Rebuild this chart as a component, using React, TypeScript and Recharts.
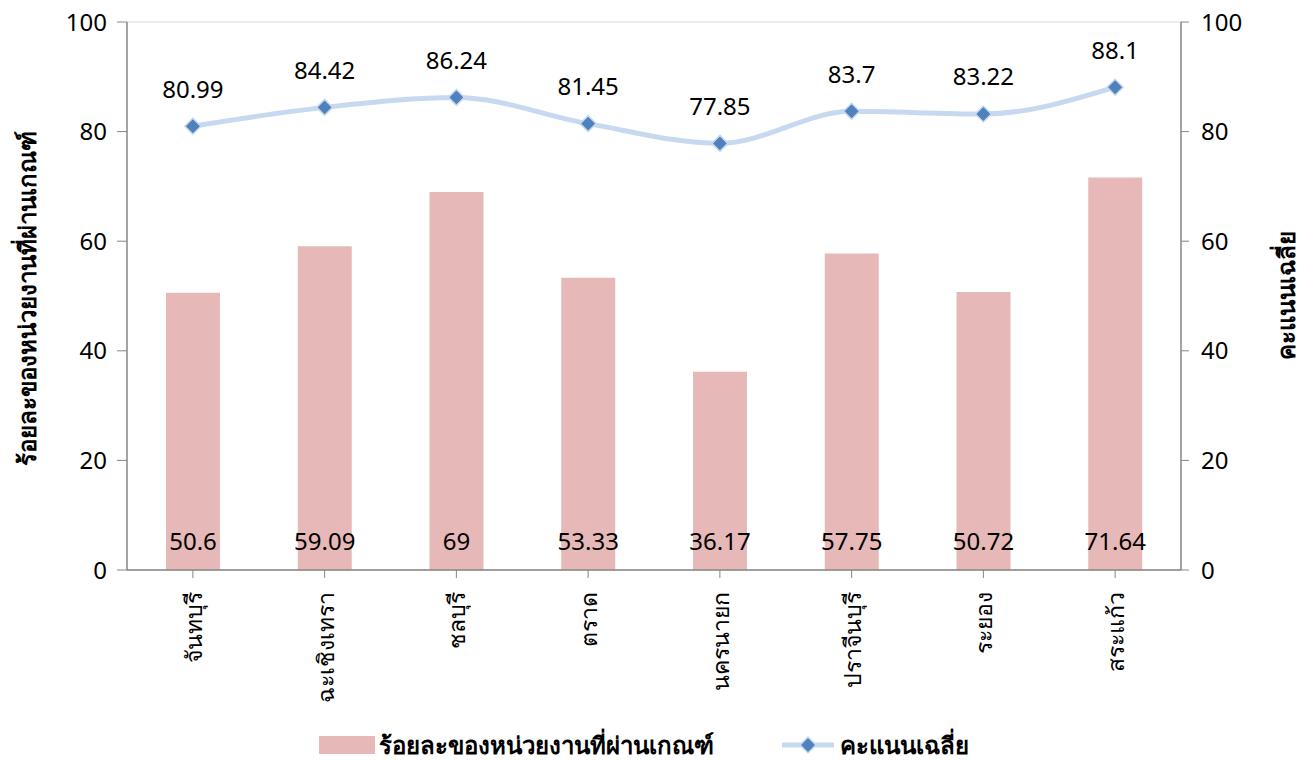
import React from "react";
import {
  ComposedChart,
  Bar,
  Line,
  XAxis,
  YAxis,
  CartesianGrid,
  Legend,
  LabelList,
} from "recharts";

const categories = [
  "จันทบุรี",
  "ฉะเชิงเทรา",
  "ชลบุรี",
  "ตราด",
  "นครนายก",
  "ปราจีนบุรี",
  "ระยอง",
  "สระแก้ว",
];
const passPercent = [50.6, 59.09, 69, 53.33, 36.17, 57.75, 50.72, 71.64];
const avgScore = [80.99, 84.42, 86.24, 81.45, 77.85, 83.7, 83.22, 88.1];
const yTicks = [0, 20, 40, 60, 80, 100];

const barName = "ร้อยละของหน่วยงานที่ผ่านเกณฑ์";
const lineName = "คะแนนเฉลี่ย";

const data = categories.map((c, i) => ({
  name: c,
  pass: passPercent[i],
  avg: avgScore[i],
}));

const FONT = "'Noto Sans', 'Open Sans', sans-serif";
const BAR_COLOR = "#E6B8B7";
const LINE_COLOR = "#C6D9F1";
const DOT_COLOR = "#4F81BD";
const AXIS_COLOR = "#868686";

const XTick = (props: any) => {
  const { x, y, payload } = props;
  return (
    <text
      x={x}
      y={y + 12}
      transform={`rotate(-90, ${x}, ${y + 12})`}
      textAnchor="end"
      dominantBaseline="central"
      fontSize={23}
      fontFamily={FONT}
      fill="#000"
    >
      {payload.value}
    </text>
  );
};

const Diamond = (props: any) => {
  const { cx, cy } = props;
  if (cx == null || cy == null) return null;
  const r = 8;
  return (
    <polygon
      points={`${cx},${cy - r} ${cx + r},${cy} ${cx},${cy + r} ${cx - r},${cy}`}
      fill={DOT_COLOR}
      stroke={LINE_COLOR}
      strokeWidth={1.5}
    />
  );
};

const BarLabel = (props: any) => {
  const { x, y, width, height, value } = props;
  return (
    <text
      x={x + width / 2}
      y={y + height - 30}
      textAnchor="middle"
      dominantBaseline="central"
      fontSize={24}
      fontFamily={FONT}
      fill="#000"
    >
      {value}
    </text>
  );
};

const LineLabel = (props: any) => {
  const { x, y, value } = props;
  return (
    <text
      x={x}
      y={y - 38}
      textAnchor="middle"
      dominantBaseline="central"
      fontSize={24}
      fontFamily={FONT}
      fill="#000"
    >
      {value}
    </text>
  );
};

const LeftTitle = () => (
  <text
    x={18}
    y={296}
    transform="rotate(-90, 18, 296)"
    textAnchor="middle"
    dominantBaseline="central"
    fontSize={24}
    fontWeight="bold"
    fontFamily={FONT}
    fill="#000"
  >
    {barName}
  </text>
);

const RightTitle = () => (
  <text
    x={1277}
    y={293}
    transform="rotate(-90, 1277, 293)"
    textAnchor="middle"
    dominantBaseline="central"
    fontSize={24}
    fontWeight="bold"
    fontFamily={FONT}
    fill="#000"
  >
    {lineName}
  </text>
);

const LegendContent = () => (
  <div
    style={{
      display: "flex",
      justifyContent: "center",
      alignItems: "center",
      height: 30,
      fontFamily: FONT,
      fontSize: 24,
      fontWeight: "bold",
      color: "#000",
      paddingRight: 28,
    }}
  >
    <div style={{ display: "flex", alignItems: "center" }}>
      <div style={{ width: 56, height: 18, background: BAR_COLOR, marginRight: 4 }} />
      <span>{barName}</span>
    </div>
    <div style={{ display: "flex", alignItems: "center", marginLeft: 68 }}>
      <svg width={52} height={20}>
        <line x1={0} y1={10} x2={52} y2={10} stroke={LINE_COLOR} strokeWidth={5} />
        <polygon points="26,2 34,10 26,18 18,10" fill={DOT_COLOR} stroke={LINE_COLOR} strokeWidth={1.5} />
      </svg>
      <span style={{ marginLeft: 6 }}>{lineName}</span>
    </div>
  </div>
);

export default function App() {
  return (
    <div style={{ marginTop: -6, width: 1300, height: 758 }}>
      <ComposedChart
        width={1300}
        height={758}
        data={data}
        margin={{ top: 20, right: 0, bottom: 0, left: 0 }}
        style={{ overflow: "visible" }}
      >
        <CartesianGrid vertical={false} stroke="#D9D9D9" />
        <XAxis
          dataKey="name"
          height={160}
          tick={<XTick />}
          tickLine={{ stroke: AXIS_COLOR }}
          axisLine={{ stroke: AXIS_COLOR, strokeWidth: 1.5 }}
          tickSize={8}
          interval={0}
        />
        <YAxis
          yAxisId="left"
          domain={[0, 100]}
          ticks={yTicks}
          width={119}
          tick={{ fontSize: 24, fill: "#000", fontFamily: FONT }}
          tickLine={{ stroke: AXIS_COLOR }}
          axisLine={{ stroke: AXIS_COLOR, strokeWidth: 1.5 }}
          tickSize={10}
          tickMargin={10}
          label={<LeftTitle />}
        />
        <YAxis
          yAxisId="right"
          orientation="right"
          domain={[0, 100]}
          ticks={yTicks}
          width={127}
          tick={{ fontSize: 24, fill: "#000", fontFamily: FONT }}
          tickLine={{ stroke: AXIS_COLOR }}
          axisLine={{ stroke: AXIS_COLOR, strokeWidth: 1.5 }}
          tickSize={8}
          tickMargin={12}
          label={<RightTitle />}
        />
        <Legend verticalAlign="bottom" content={<LegendContent />} />
        <Bar
          yAxisId="left"
          dataKey="pass"
          name={barName}
          fill={BAR_COLOR}
          barSize={54}
          isAnimationActive={false}
        >
          <LabelList dataKey="pass" content={<BarLabel />} />
        </Bar>
        <Line
          yAxisId="right"
          dataKey="avg"
          name={lineName}
          type="monotone"
          stroke={LINE_COLOR}
          strokeWidth={5}
          dot={<Diamond />}
          activeDot={false}
          isAnimationActive={false}
        >
          <LabelList dataKey="avg" content={<LineLabel />} />
        </Line>
      </ComposedChart>
    </div>
  );
}
